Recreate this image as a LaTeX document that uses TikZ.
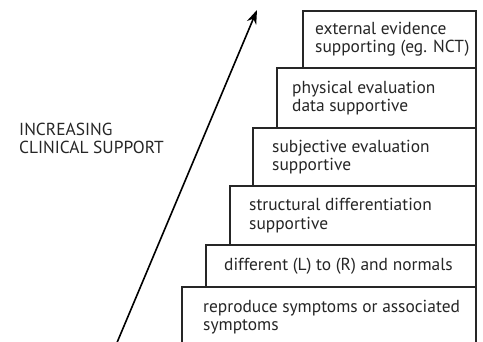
\documentclass[tikz,border=0pt]{standalone}
\usepackage{fontspec}
\setmainfont{PT Sans}
\usetikzlibrary{arrows.meta}
\tikzset{
  stepbox/.style={draw=black!85, line width=1.2pt, fill=white, rectangle, anchor=north west,
    outer sep=0pt, inner sep=0pt},
  steptext/.style={anchor=west, align=left, inner sep=0pt, text=black!85,
    font=\fontsize{17.4}{18.3}\selectfont},
  lbl/.style={align=left, inner sep=0pt, text=black!85, font=\fontsize{17.4}{18.3}\selectfont},
  rise/.style={line width=1.6pt, -{Stealth[length=14pt,width=10pt]}}
}
\begin{document}
\begin{tikzpicture}[x=1pt,y=-1pt]
\useasboundingbox (0,0) rectangle (483,342);
\clip (0,0) rectangle (483,342);
\node[stepbox, minimum width=294pt, minimum height=60pt] (b6) at (182,287) {};
\node[steptext] (t6) at ([xshift=21pt]b6.west) {reproduce symptoms or associated\\symptoms};
\node[stepbox, minimum width=270pt, minimum height=42pt] (b5) at (206,245) {};
\node[steptext] (t5) at ([xshift=18pt]b5.west) {different (L) to (R) and normals};
\node[stepbox, minimum width=246pt, minimum height=59pt] (b4) at (230,186) {};
\node[steptext] (t4) at ([xshift=19pt]b4.west) {structural differentiation\\supportive};
\node[stepbox, minimum width=223pt, minimum height=58pt] (b3) at (253,128) {};
\node[steptext] (t3) at ([xshift=19pt]b3.west) {subjective evaluation\\supportive};
\node[stepbox, minimum width=199pt, minimum height=60pt] (b2) at (277,68) {};
\node[steptext] (t2) at ([xshift=15pt]b2.west) {physical evaluation\\data supportive};
\node[stepbox, minimum width=173pt, minimum height=57pt] (b1) at (303,11) {};
\node[steptext] (t1) at ([xshift=12pt]b1.west) {external evidence\\supporting (eg. NCT)};
\node[lbl, anchor=north west] (lab) at (19,123) {INCREASING\\CLINICAL SUPPORT};
\coordinate (a0) at (116,345);
\coordinate (a1) at (257,10);
\draw[rise] (a0) -- (a1);
\end{tikzpicture}
\end{document}
